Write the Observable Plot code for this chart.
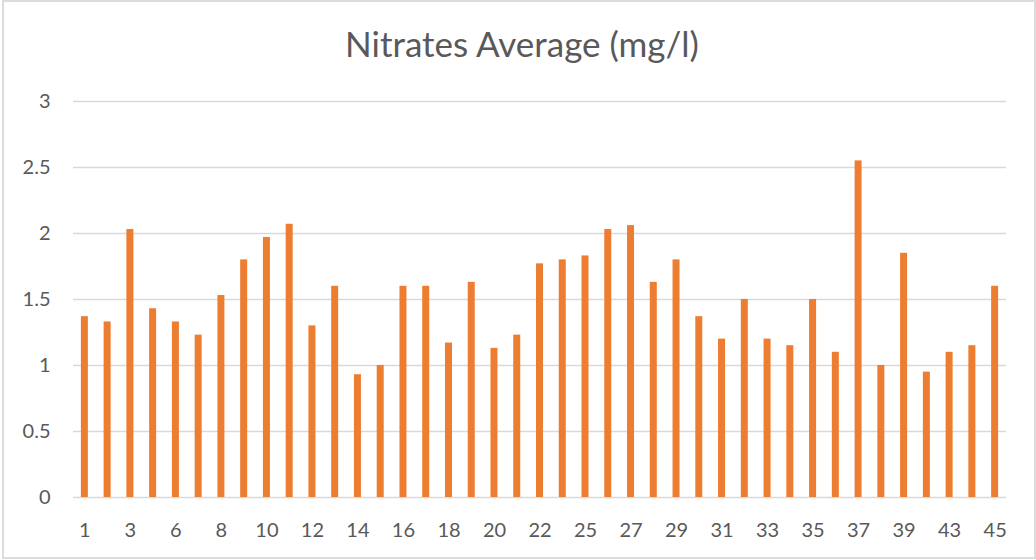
<!DOCTYPE html>
<html>
<head>
<meta charset="utf-8">
<script src="https://cdn.jsdelivr.net/npm/d3@7"></script>
<script src="https://cdn.jsdelivr.net/npm/@observablehq/plot@0.6"></script>
<style>
  html, body { margin: 0; padding: 0; background: #fff; }
  #page { position: relative; width: 1036px; height: 560px; overflow: hidden; font-family: Lato, "Open Sans", sans-serif; }
  #frame { position: absolute; left: 2px; top: 0px; width: 1034px; height: 559px; box-sizing: border-box; border: 2px solid #dcdcdc; pointer-events: none; }
  #title { position: absolute; left: 0; top: 26px; width: 1036px; padding-left: 8px; box-sizing: border-box; text-align: center; font-size: 35px; line-height: 35px; color: #595959; font-weight: 400; white-space: nowrap; }
  #chart { position: absolute; left: 0; top: 80px; }
</style>
</head>
<body>
<div id="page">
  <div id="title">Nitrates Average (mg/l)</div>
  <div id="chart"></div>
  <div id="frame"></div>
</div>
<script>
const categories = ["1","2","3","4","6","7","8","9","10","11","12","13","14","15","16","17","18","19","20","21","22","23","25","26","27","28","29","30","31","32","33","34","35","36","37","38","39","41","43","44","45"];
const values = [1.37,1.33,2.03,1.43,1.33,1.23,1.53,1.80,1.97,2.07,1.30,1.60,0.93,1.00,1.60,1.60,1.17,1.63,1.13,1.23,1.77,1.80,1.83,2.03,2.06,1.63,1.80,1.37,1.20,1.50,1.20,1.15,1.50,1.10,2.55,1.00,1.85,0.95,1.10,1.15,1.60];
const xTickLabels = ["1","3","6","8","10","12","14","16","18","20","22","25","27","29","31","33","35","37","39","43","45"];
const yTicks = [0, 0.5, 1, 1.5, 2, 2.5, 3];

const data = categories.map((c, i) => ({category: c, value: values[i]}));

const chart = Plot.plot({
  width: 1036,
  height: 480,
  marginTop: 21,
  marginBottom: 63,
  marginLeft: 73,
  marginRight: 30,
  style: {fontFamily: "Lato, 'Open Sans', sans-serif", color: "#595959", background: "transparent"},
  x: {type: "band", domain: categories, paddingInner: 0.6925, paddingOuter: 0.346, align: 0.5},
  y: {domain: [0, 3]},
  marks: [
    Plot.gridY(yTicks, {stroke: "#d9d9d9", strokeOpacity: 1, strokeWidth: 1.3}),
    Plot.barY(data, {x: "category", y: "value", fill: "#ED7D31"}),
    Plot.axisY(yTicks, {tickSize: 0, tickPadding: 23, fontSize: 20, fill: "#595959", label: null, tickFormat: d => String(d)}),
    Plot.axisX(xTickLabels, {tickSize: 0, tickPadding: 25, fontSize: 20, fill: "#595959", label: null})
  ]
});
document.getElementById("chart").appendChild(chart);
</script>
</body>
</html>
